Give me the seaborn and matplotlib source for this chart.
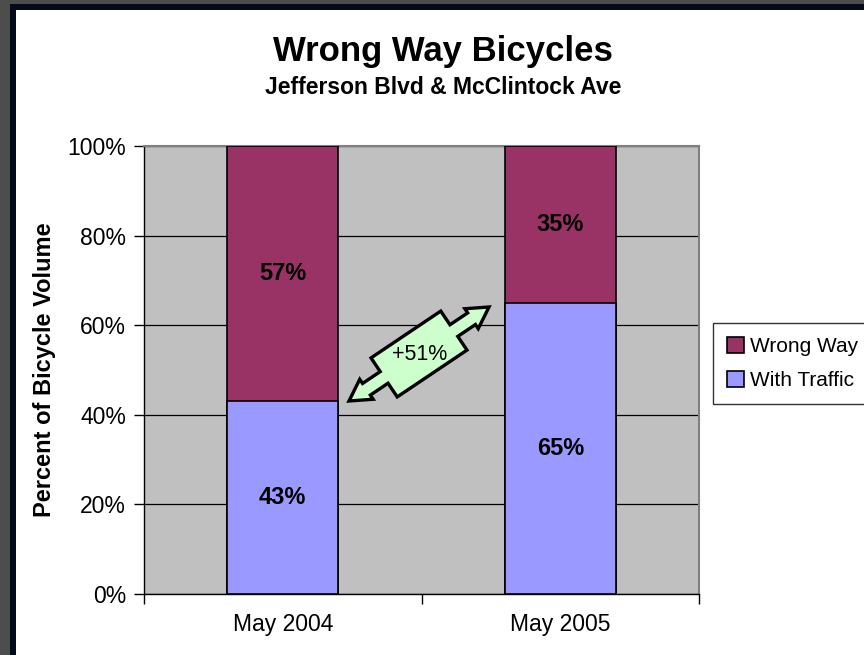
import numpy as np
import pandas as pd
import matplotlib
matplotlib.use("Agg")
import matplotlib.pyplot as plt
import seaborn as sns
from matplotlib.patches import Rectangle, Polygon
from matplotlib.ticker import FixedLocator

# ---- data ----
periods = ["May 2004", "May 2005"]
wrong_way = [57, 35]
with_traffic = [43, 65]
change_label = "+51%"
y_ticks = [0, 20, 40, 60, 80, 100]
y_tick_labels = ["0%", "20%", "40%", "60%", "80%", "100%"]

WRONG_C = "#993366"
WITH_C = "#9999ff"
PLOT_BG = "#c0c0c0"
ARROW_C = "#ccffcc"

sns.set_theme(style="white")
plt.rcParams["font.family"] = ["Liberation Sans", "DejaVu Sans"]
for k in ["text.color", "axes.labelcolor", "xtick.color", "ytick.color"]:
    plt.rcParams[k] = "black"

W, H = 864, 655
fig = plt.figure(figsize=(W / 100, H / 100), dpi=100)
fig.patch.set_facecolor("white")

def fx(x):
    return x / W

def fy(y):
    return 1 - y / H

# slide frame
fig.patches.append(Rectangle((0, 0), 1, 1, transform=fig.transFigure,
                             facecolor="#4d4d4d", edgecolor="none", zorder=-10))
fig.patches.append(Rectangle((fx(10), 0), 1, fy(4), transform=fig.transFigure,
                             facecolor="#050a18", edgecolor="none", zorder=-9))
fig.patches.append(Rectangle((fx(16), 0), 1, fy(10), transform=fig.transFigure,
                             facecolor="white", edgecolor="none", zorder=-8))

ax = fig.add_axes([fx(144), fy(594), fx(699) - fx(144), fy(146) - fy(594)])
ax.set_facecolor(PLOT_BG)

df = pd.DataFrame({"period": periods,
                   "wrong": wrong_way,
                   "with": with_traffic})
df["total"] = df["wrong"] + df["with"]

sns.barplot(data=df, x="period", y="total", color=WRONG_C, width=0.4,
            edgecolor="black", linewidth=1.2, saturation=1, ax=ax, zorder=3)
sns.barplot(data=df, x="period", y="with", color=WITH_C, width=0.4,
            edgecolor="black", linewidth=1.2, saturation=1, ax=ax, zorder=4)

ax.set_xlim(-0.5, 1.5)
ax.set_ylim(0, 100)
ax.set_yticks(y_ticks)
ax.set_yticklabels(y_tick_labels)
ax.yaxis.grid(True, color="black", linewidth=0.9)
ax.set_axisbelow(True)
ax.xaxis.set_minor_locator(FixedLocator([-0.5, 0.5, 1.5]))
ax.tick_params(axis="x", which="major", length=0, pad=14, labelsize=16.5)
ax.tick_params(axis="x", which="minor", length=7, width=1, color="black",
               direction="out", bottom=True)
ax.tick_params(axis="y", length=7, width=1, color="black", direction="out",
               left=True, labelsize=16.5, pad=6)
ax.set_xlabel("")
ax.set_ylabel("Percent of Bicycle Volume", fontsize=17, fontweight="bold",
              labelpad=8)

for s in ["left", "bottom"]:
    ax.spines[s].set_color("black")
    ax.spines[s].set_linewidth(1)
for s in ["top", "right"]:
    ax.spines[s].set_color("#808080")
    ax.spines[s].set_linewidth(1.5)

# segment labels
for i in range(len(periods)):
    ax.text(i, with_traffic[i] / 2, f"{with_traffic[i]}%", ha="center",
            va="center", fontsize=17, fontweight="bold", zorder=6)
    ax.text(i, with_traffic[i] + wrong_way[i] / 2, f"{wrong_way[i]}%",
            ha="center", va="center", fontsize=17, fontweight="bold", zorder=6)

# titles
fig.text(fx(443), fy(52), "Wrong Way Bicycles", ha="center", va="center",
         fontsize=25, fontweight="bold")
fig.text(fx(443), fy(88), "Jefferson Blvd & McClintock Ave", ha="center",
         va="center", fontsize=16.5, fontweight="bold")

# double-headed block arrow annotation (figure pixel geometry)
tail = np.array([349.0, 401.0])
head = np.array([489.0, 307.0])
c = (tail + head) / 2
L = np.linalg.norm(head - tail) / 2
eu = (head - tail) / (2 * L)
ev = np.array([-eu[1], eu[0]])
bh, bw, sw, hw, hl = 42, 23.5, 7, 12, 21
loc = [(-L, 0), (-L + hl, hw), (-L + hl, sw), (-bh, sw), (-bh, bw), (bh, bw),
       (bh, sw), (L - hl, sw), (L - hl, hw), (L, 0), (L - hl, -hw),
       (L - hl, -sw), (bh, -sw), (bh, -bw), (-bh, -bw), (-bh, -sw),
       (-L + hl, -sw), (-L + hl, -hw)]
pts = [c + u * eu + v * ev for u, v in loc]
pts = [(fx(p[0]), fy(p[1])) for p in pts]
fig.patches.append(Polygon(pts, closed=True, transform=fig.transFigure,
                           facecolor=ARROW_C, edgecolor="black",
                           linewidth=2.4, joinstyle="miter", zorder=10))
fig.text(fx(c[0] + 1), fy(c[1] + 1), change_label, ha="center", va="center",
         fontsize=15.5, zorder=11)

# legend
handles = [Rectangle((0, 0), 1, 1, facecolor=WRONG_C, edgecolor="black", lw=1.2),
           Rectangle((0, 0), 1, 1, facecolor=WITH_C, edgecolor="black", lw=1.2)]
leg = fig.legend(handles, ["Wrong Way", "With Traffic"],
                 loc="upper left", bbox_to_anchor=(fx(713), fy(323)),
                 frameon=True, fancybox=False, handlelength=0.85,
                 handleheight=0.85, handletextpad=0.3, borderpad=0.65,
                 labelspacing=0.7, borderaxespad=0,
                 prop={"size": 15})
leg.get_frame().set_edgecolor("black")
leg.get_frame().set_linewidth(1)
leg.get_frame().set_facecolor("white")

fig.savefig("out.png", dpi=100)
